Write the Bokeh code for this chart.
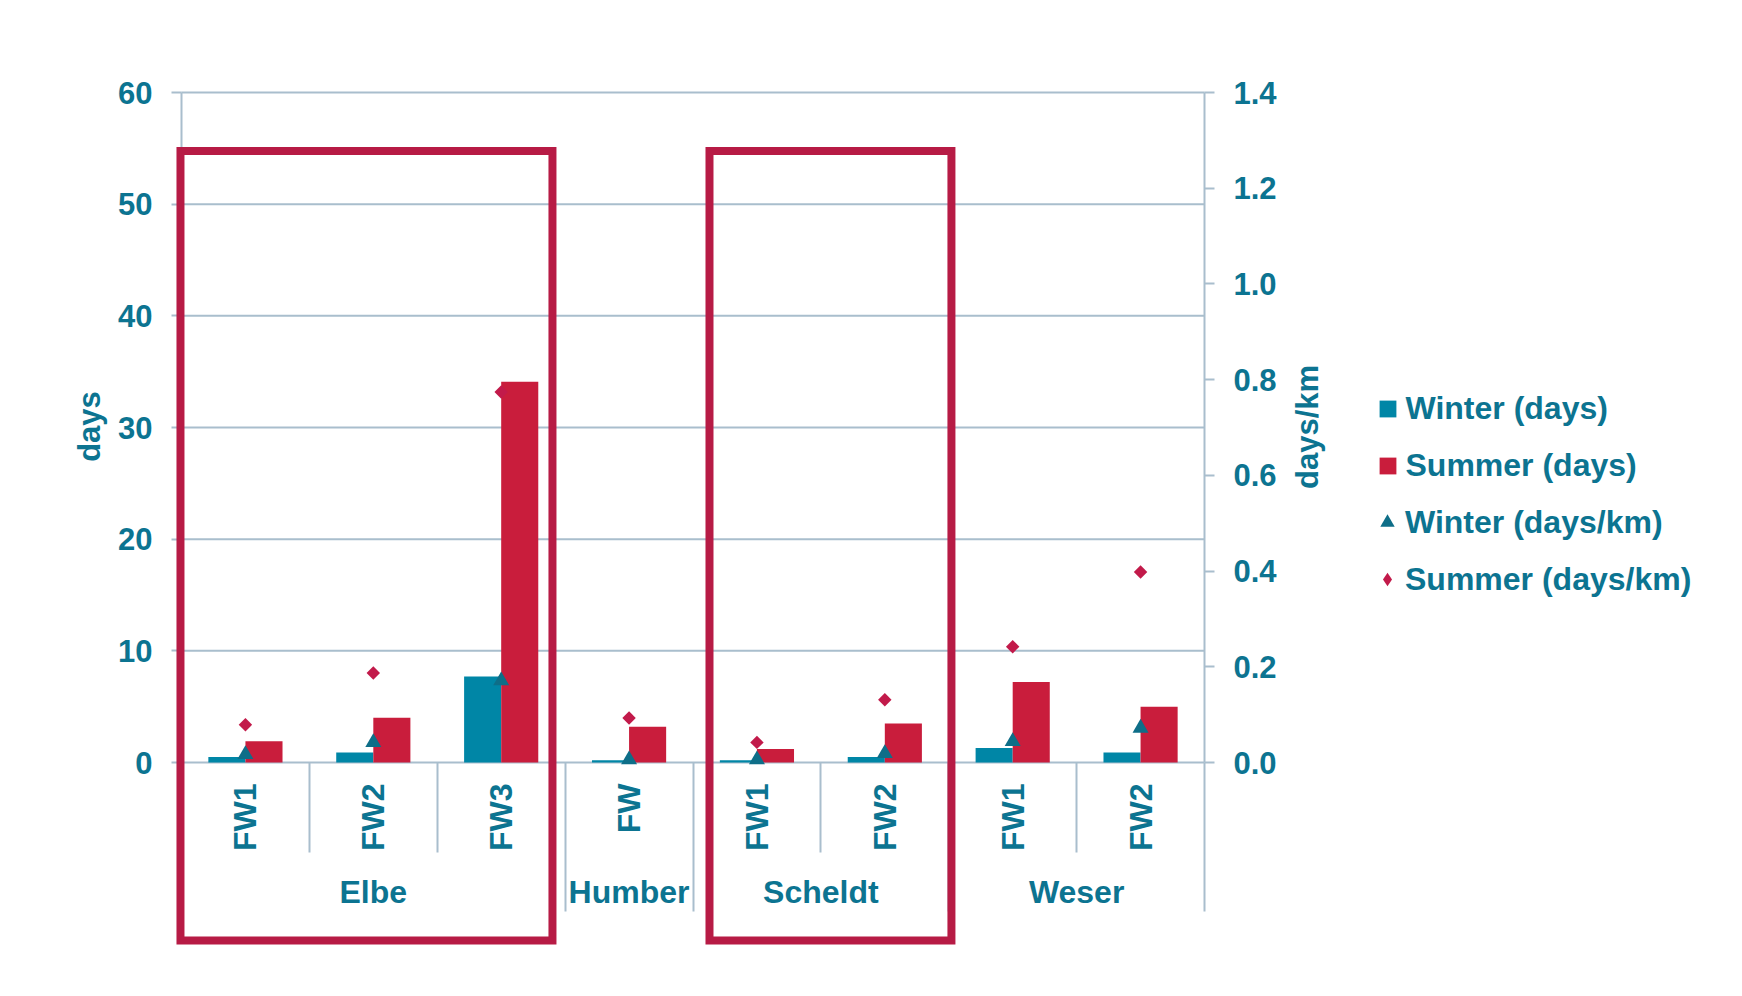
import math
from bokeh.plotting import figure
from bokeh.models import (Range1d, LinearAxis, FixedTicker, BoxAnnotation, Legend, LegendItem,
                          ColumnDataSource, PrintfTickFormatter)
from bokeh.core.properties import value
from bokeh.transform import dodge
from bokeh.embed import file_html
from bokeh.resources import INLINE

# ---------------- data ----------------
groups = ["Elbe", "Elbe", "Elbe", "Humber", "Scheldt", "Scheldt", "Weser", "Weser"]
subcats = ["FW1", "FW2", "FW3", "FW", "FW1", "FW2", "FW1", "FW2"]
winter_days = [0.5, 0.9, 7.7, 0.2, 0.2, 0.5, 1.3, 0.9]
summer_days = [1.9, 4.0, 34.1, 3.2, 1.2, 3.5, 7.2, 5.0]
winter_days_per_km = [0.017, 0.042, 0.171, 0.006, 0.006, 0.019, 0.044, 0.072]
summer_days_per_km = [0.079, 0.187, 0.774, 0.093, 0.042, 0.131, 0.242, 0.398]
days_ticks = [0, 10, 20, 30, 40, 50, 60]
per_km_ticks = [0.0, 0.2, 0.4, 0.6, 0.8, 1.0, 1.2, 1.4]

# ---------------- styles / layout ----------------
FONT = "Liberation Sans"
TEXT = "#0C7491"
GRID = "#A9BECD"
WINTER = "#0086A6"
SUMMER = "#C91D3C"
TRI = "#0E6E88"
DIA = "#C21A4A"
BOXC = "#B71B45"
BAR_W = 0.29
W, H = 1740, 994
X0_PX, Y0_PX = 181, 762          # pixel position of the plot origin
PX_PER_CAT = 127.875
PX_PER_DAY = 670 / 60
# highlight frames (left, right, top, bottom) in category / day units
HIGHLIGHTS = [(-0.008, 2.901, 54.76, -15.94), (4.129, 6.021, 54.76, -15.94)]
# axis title positions (category / day units)
LEFT_TITLE_POS = (-0.7195, 30.09)
RIGHT_TITLE_POS = (8.806, 30.05)
LEGEND_CX = 1387                 # legend glyph centre x (px)
LEGEND_TEXT_X = 1405             # legend text start x (px)

n = len(subcats)
centers = [i + 0.5 for i in range(n)]
long_seps = [0] + [i for i in range(1, n) if groups[i] != groups[i - 1]] + [n]
short_seps = [i for i in range(1, n) if i not in long_seps]
group_names = []
for g in groups:
    if g not in group_names:
        group_names.append(g)
group_centers = []
for g in group_names:
    cs = [c for c, gg in zip(centers, groups) if gg == g]
    group_centers.append(sum(cs) / len(cs))

src = ColumnDataSource(dict(x=centers, winter=winter_days, summer=summer_days,
                            winter_km=winter_days_per_km, summer_km=summer_days_per_km))

x_range = Range1d(-X0_PX / PX_PER_CAT, (W - X0_PX) / PX_PER_CAT)
y_range = Range1d(-(H - Y0_PX) / PX_PER_DAY, Y0_PX / PX_PER_DAY)
km_per_day = per_km_ticks[-1] / days_ticks[-1]

p = figure(width=W, height=H, x_range=x_range, y_range=y_range, title=None,
           x_axis_type=None, y_axis_type=None, output_backend="svg", toolbar_location=None,
           min_border=0, min_border_left=0, min_border_right=0, min_border_top=0,
           min_border_bottom=0)
p.outline_line_color = None
p.background_fill_color = "white"
p.border_fill_color = "white"
p.xgrid.visible = False
p.ygrid.visible = False
p.extra_y_ranges = {"km": Range1d(y_range.start * km_per_day, y_range.end * km_per_day)}

# horizontal grid lines across the category area
p.segment(x0=[0] * len(days_ticks), x1=[n] * len(days_ticks), y0=days_ticks, y1=days_ticks,
          line_color=GRID, line_width=2)


def style_axis(ax, size="31px"):
    ax.major_label_text_font = FONT
    ax.major_label_text_font_style = "bold"
    ax.major_label_text_font_size = size
    ax.major_label_text_color = TEXT
    ax.minor_tick_line_color = None


# left axis (days) at x = 0
ly = LinearAxis(ticker=FixedTicker(ticks=days_ticks), fixed_location=0,
                bounds=(days_ticks[0], days_ticks[-1]))
style_axis(ly)
ly.axis_line_color = GRID
ly.axis_line_width = 2
ly.major_tick_line_color = GRID
ly.major_tick_line_width = 2
ly.major_tick_in = 0
ly.major_tick_out = 10
ly.major_label_standoff = 19
p.add_layout(ly, "left")

# right axis (days/km) at x = n
ry = LinearAxis(y_range_name="km", ticker=FixedTicker(ticks=per_km_ticks), fixed_location=n,
                bounds=(per_km_ticks[0], per_km_ticks[-1]),
                formatter=PrintfTickFormatter(format="%.1f"))
style_axis(ry)
ry.axis_line_color = GRID
ry.axis_line_width = 2
ry.major_tick_line_color = GRID
ry.major_tick_line_width = 2
ry.major_tick_in = 0
ry.major_tick_out = 10
ry.major_label_standoff = 19
p.add_layout(ry, "right")

# category labels (FW...)
fx = LinearAxis(ticker=FixedTicker(ticks=centers), fixed_location=0,
                major_label_overrides={c: s for c, s in zip(centers, subcats)})
style_axis(fx, "32px")
fx.axis_line_color = None
fx.major_tick_line_color = None
fx.major_tick_in = 0
fx.major_tick_out = 0
fx.major_label_orientation = math.pi / 2
fx.major_label_standoff = 21
p.add_layout(fx, "below")

# group labels
gx = LinearAxis(ticker=FixedTicker(ticks=group_centers), fixed_location=0,
                major_label_overrides={c: s for c, s in zip(group_centers, group_names)})
style_axis(gx, "32px")
gx.axis_line_color = None
gx.major_tick_line_color = None
gx.major_tick_in = 0
gx.major_tick_out = 0
gx.major_label_standoff = 111
p.add_layout(gx, "below")

# separators between categories (short) and between groups (long)
for ticks, length in ((short_seps, 90), (long_seps, 149)):
    sx = LinearAxis(ticker=FixedTicker(ticks=ticks), fixed_location=0,
                    major_label_overrides={t: "" for t in ticks})
    sx.axis_line_color = None
    sx.minor_tick_line_color = None
    sx.major_tick_line_color = GRID
    sx.major_tick_line_width = 2
    sx.major_tick_in = 0
    sx.major_tick_out = length
    sx.major_label_text_font_size = "0px"
    sx.major_label_standoff = 0
    p.add_layout(sx, "below")

# axis titles
p.text(x=[LEFT_TITLE_POS[0]], y=[LEFT_TITLE_POS[1]], text=["days"], angle=math.pi / 2,
       text_font=value(FONT), text_font_style="bold", text_font_size="31px", text_color=TEXT,
       text_align="center", text_baseline="middle")
p.text(x=[RIGHT_TITLE_POS[0]], y=[RIGHT_TITLE_POS[1]], text=["days/km"], angle=math.pi / 2,
       text_font=value(FONT), text_font_style="bold", text_font_size="31px", text_color=TEXT,
       text_align="center", text_baseline="middle")

# bars and markers
rw = p.vbar(x=dodge("x", -BAR_W / 2, range=p.x_range), top="winter", width=BAR_W,
            source=src, fill_color=WINTER, line_color=None)
rs = p.vbar(x=dodge("x", BAR_W / 2, range=p.x_range), top="summer", width=BAR_W,
            source=src, fill_color=SUMMER, line_color=None)
rt = p.scatter(x="x", y="winter_km", source=src, y_range_name="km", marker="triangle",
               size=16, fill_color=TRI, line_color=None)
rd = p.scatter(x="x", y="summer_km", source=src, y_range_name="km", marker="square",
               angle=math.pi / 4, size=9.5, fill_color=DIA, line_color=None)
# legend-only swatch for the diamond series (legend glyphs are drawn unrotated);
# its single point has no position, so nothing is drawn in the plot area
rd_key = p.scatter(x=[float("nan")], y=[float("nan")], marker="diamond", fill_color=DIA,
                   line_color=None)

# highlight frames
for (l, r, t, b) in HIGHLIGHTS:
    p.add_layout(BoxAnnotation(left=l, right=r, top=t, bottom=b, fill_alpha=0, fill_color=None,
                               line_color=BOXC, line_width=8, line_alpha=1, line_join="miter",
                               level="overlay"))


def make_legend(items, glyph, rows_below):
    # rows_below: number of legend rows below the last row of this legend block
    bottom_px = 599 - rows_below * 57
    return Legend(items=items, location=(LEGEND_CX - glyph / 2, H - bottom_px),
                  orientation="vertical", glyph_width=glyph, glyph_height=glyph,
                  label_standoff=int(round(LEGEND_TEXT_X - LEGEND_CX - glyph / 2)),
                  spacing=17, padding=0, margin=0, border_line_color=None,
                  background_fill_alpha=0, label_text_font=FONT, label_text_font_style="bold",
                  label_text_font_size="32px", label_text_color=TEXT, label_height=40)


p.add_layout(make_legend([LegendItem(label="Winter (days)", renderers=[rw]),
                          LegendItem(label="Summer (days)", renderers=[rs])], 21, 2), "center")
p.add_layout(make_legend([LegendItem(label="Winter (days/km)", renderers=[rt])], 36, 1), "center")
p.add_layout(make_legend([LegendItem(label="Summer (days/km)", renderers=[rd_key])], 34, 0),
             "center")

open("out.html", "w").write(file_html(p, INLINE))
